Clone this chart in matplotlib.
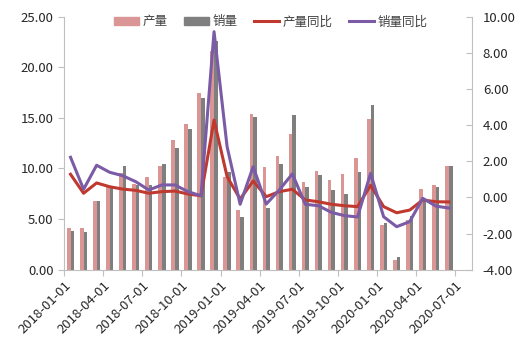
import numpy as np
import matplotlib
matplotlib.use('Agg')
import matplotlib.pyplot as plt
from matplotlib.patches import Patch
from matplotlib.lines import Line2D

plt.rcParams['font.family'] = ['Noto Sans CJK SC', 'DejaVu Sans']

# data, monthly 2018-01 .. 2020-06
prod = [4.09, 4.09, 6.79, 8.15, 9.59, 8.50, 9.13, 10.28, 12.79, 14.37,
        17.46, 21.60, 9.13, 5.87, 15.36, 10.15, 11.20, 13.38, 8.70, 9.78,
        8.86, 9.49, 11.00, 14.86, 4.42, 0.99, 4.91, 8.00, 8.37, 10.25]
sales = [3.79, 3.69, 6.79, 8.25, 10.28, 8.37, 8.37, 10.47, 12.00, 13.90,
         16.94, 22.57, 9.62, 5.21, 15.06, 6.13, 10.41, 15.29, 8.20, 9.36,
         7.88, 7.45, 9.62, 16.24, 4.65, 1.29, 5.31, 7.00, 8.17, 10.28]
prod_yoy = [1.28, 0.23, 0.80, 0.59, 0.46, 0.39, 0.23, 0.32, 0.35, 0.19,
            0.09, 4.28, 1.15, -0.09, 0.91, 0.04, 0.32, 0.45, -0.14, -0.24,
            -0.38, -0.46, -0.51, 0.67, -0.51, -0.85, -0.70, -0.14, -0.24, -0.25]
sales_yoy = [2.22, 0.45, 1.78, 1.39, 1.20, 0.87, 0.41, 0.69, 0.69, 0.32,
             0.09, 9.17, 2.81, -0.38, 1.70, -0.37, 0.41, 1.30, -0.38, -0.46,
             -0.83, -1.01, -1.08, 1.33, -1.07, -1.62, -1.34, -0.05, -0.48, -0.59]
tick_labels = ['2018-01-01', '2018-04-01', '2018-07-01', '2018-10-01',
               '2019-01-01', '2019-04-01', '2019-07-01', '2019-10-01',
               '2020-01-01', '2020-04-01', '2020-07-01']

c_prod = '#D99694'
c_sales = '#7F7F7F'
c_prod_yoy = '#C0392F'
c_sales_yoy = '#7B5BA6'
axis_col = '#BFBFBF'

x = np.arange(len(prod))
w = 0.28

fig = plt.figure(figsize=(5.23, 3.52), dpi=100)
ax = fig.add_axes([0.1224, 0.2338, 0.7795, 0.7188])
ax2 = ax.twinx()

ax.bar(x - w / 2, prod, width=w, color=c_prod, zorder=2)
ax.bar(x + w / 2, sales, width=w, color=c_sales, zorder=2)
ax2.plot(x, prod_yoy, color=c_prod_yoy, lw=2.2)
ax2.plot(x, sales_yoy, color=c_sales_yoy, lw=2.2)

ax.set_xlim(-0.5, 30.75)
ax.set_ylim(0, 25)
ax2.set_ylim(-4, 10)
ax.set_yticks(np.arange(0, 25.1, 5))
ax.set_yticklabels(['%.2f' % v for v in np.arange(0, 25.1, 5)])
ax2.set_yticks(np.arange(-4, 10.1, 2))
ax2.set_yticklabels(['%.2f' % v for v in np.arange(-4, 10.1, 2)])
ax.set_xticks(np.arange(-0.5, 30, 3))
ax.set_xticklabels(tick_labels, rotation=45, ha='right', rotation_mode='anchor')

for a in (ax, ax2):
    a.spines['top'].set_visible(False)
    for s in ('left', 'right', 'bottom'):
        a.spines[s].set_color(axis_col)
    a.tick_params(colors='#262626', labelsize=9.5, length=4, color=axis_col)
ax.spines['right'].set_visible(False)
ax2.spines['left'].set_visible(False)
ax2.spines['bottom'].set_visible(False)
ax2.tick_params(axis='y', direction='in', pad=8)
ax.tick_params(axis='x', pad=3)

handles = [Patch(color=c_prod, label='产量'),
           Patch(color=c_sales, label='销量'),
           Line2D([], [], color=c_prod_yoy, lw=2.2, label='产量同比'),
           Line2D([], [], color=c_sales_yoy, lw=2.2, label='销量同比')]
ax.legend(handles=handles, ncol=4, frameon=False, loc='upper left',
          bbox_to_anchor=(0.095, 1.05), fontsize=9, handlelength=2.0,
          handleheight=0.6, columnspacing=1.3, handletextpad=0.3,
          labelcolor='#404040')

fig.savefig('out.png', dpi=100)
